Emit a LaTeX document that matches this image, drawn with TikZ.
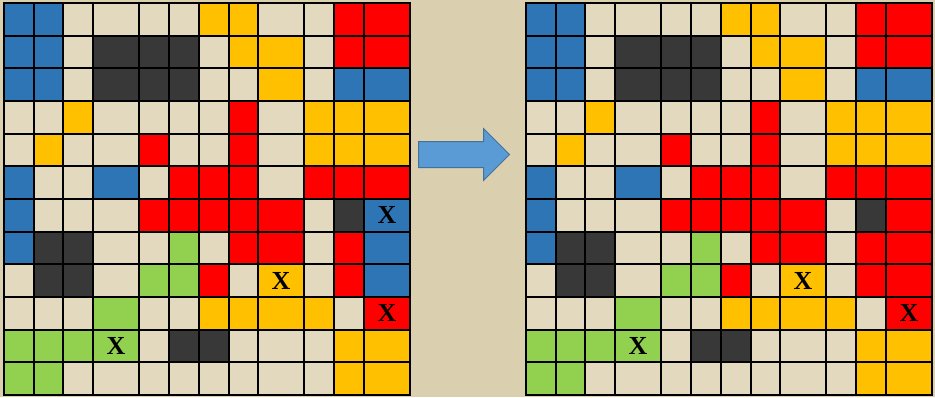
\documentclass[tikz,border=0pt]{standalone}
\usepackage{fontspec}
\setmainfont{Liberation Serif}
\usetikzlibrary{shapes.arrows}
\definecolor{tileblue}{RGB}{46,117,182}
\definecolor{tilered}{RGB}{255,0,0}
\definecolor{tileyellow}{RGB}{255,192,0}
\definecolor{tilegreen}{RGB}{146,208,80}
\definecolor{tiledark}{RGB}{56,56,56}
\definecolor{parchment}{RGB}{218,207,175}
\definecolor{parchmentlight}{RGB}{226,217,190}
\definecolor{arrowblue}{RGB}{91,155,213}
\definecolor{arrowedge}{RGB}{65,113,156}
\newcommand{\tilecols}{{0,30,59,89,135,165,195,225,254,300,330,360,406}}

\begin{document}
\begin{tikzpicture}[
x=1pt, y=-1pt,
tileb/.style={fill=tileblue},
tiler/.style={fill=tilered},
tiley/.style={fill=tileyellow},
tileg/.style={fill=tilegreen},
tiled/.style={fill=tiledark},
tilen/.style={fill=parchmentlight},
gridline/.style={draw=black, line width=2pt},
xtag/.style={font=\fontsize{26}{26}\selectfont\bfseries, inner sep=0pt}
]
\useasboundingbox[fill=parchment] (0,0) rectangle (935,397);

% left board
\begin{scope}[shift={(4,3)}]
\foreach \r/\row in {
  0/{b,b,n,n,n,n,y,y,n,n,r,r},
  1/{b,b,n,d,d,d,n,y,y,n,r,r},
  2/{b,b,n,d,d,d,n,n,y,n,b,b},
  3/{n,n,y,n,n,n,n,r,n,y,y,y},
  4/{n,y,n,n,r,n,n,r,n,y,y,y},
  5/{b,n,n,b,n,r,r,r,n,r,r,r},
  6/{b,n,n,n,r,r,r,r,r,n,d,b},
  7/{b,d,d,n,n,g,n,r,r,n,r,b},
  8/{n,d,d,n,g,g,r,n,y,n,r,b},
  9/{n,n,n,g,n,n,y,y,y,y,n,r},
  10/{g,g,g,g,n,d,d,n,n,n,y,y},
  11/{g,g,n,n,n,n,n,n,n,n,y,y}} {
  \foreach \k [count=\ci from 0] in \row {
    \pgfmathsetmacro\xa{\tilecols[\ci]}
    \pgfmathsetmacro\xb{\tilecols[\ci+1]}
    \fill[tile\k] (\xa,\r*32.67) rectangle (\xb,\r*32.67+32.67);
  }
}
\foreach \x in {30,59,89,135,165,195,225,254,300,330,360}
  \draw[gridline] (\x,0) -- (\x,392);
\foreach \r in {1,...,11}
  \draw[gridline] (0,\r*32.67) -- (406,\r*32.67);
\draw[gridline] (0,0) rectangle (406,392);
\node[xtag] (lx1) at (383,212.4) {X};
\node[xtag] (lx2) at (277,277.7) {X};
\node[xtag] (lx3) at (383,310.4) {X};
\node[xtag] (lx4) at (112,343.0) {X};
\end{scope}

% right board
\begin{scope}[shift={(526,3)}]
\foreach \r/\row in {
  0/{b,b,n,n,n,n,y,y,n,n,r,r},
  1/{b,b,n,d,d,d,n,y,y,n,r,r},
  2/{b,b,n,d,d,d,n,n,y,n,b,b},
  3/{n,n,y,n,n,n,n,r,n,y,y,y},
  4/{n,y,n,n,r,n,n,r,n,y,y,y},
  5/{b,n,n,b,n,r,r,r,n,r,r,r},
  6/{b,n,n,n,r,r,r,r,r,n,d,r},
  7/{b,d,d,n,n,g,n,r,r,n,r,r},
  8/{n,d,d,n,g,g,r,n,y,n,r,r},
  9/{n,n,n,g,n,n,y,y,y,y,n,r},
  10/{g,g,g,g,n,d,d,n,n,n,y,y},
  11/{g,g,n,n,n,n,n,n,n,n,y,y}} {
  \foreach \k [count=\ci from 0] in \row {
    \pgfmathsetmacro\xa{\tilecols[\ci]}
    \pgfmathsetmacro\xb{\tilecols[\ci+1]}
    \fill[tile\k] (\xa,\r*32.67) rectangle (\xb,\r*32.67+32.67);
  }
}
\foreach \x in {30,59,89,135,165,195,225,254,300,330,360}
  \draw[gridline] (\x,0) -- (\x,392);
\foreach \r in {1,...,11}
  \draw[gridline] (0,\r*32.67) -- (406,\r*32.67);
\draw[gridline] (0,0) rectangle (406,392);
\node[xtag] (rx2) at (277,277.7) {X};
\node[xtag] (rx3) at (383,310.4) {X};
\node[xtag] (rx4) at (112,343.0) {X};
\end{scope}

\node[single arrow, draw=arrowedge, fill=arrowblue, line width=1pt,
  minimum height=91pt, single arrow head extend=13pt,
  inner xsep=0pt, inner ysep=12.5pt, anchor=tail] (shiftarrow) at (418,154.5) {};
\end{tikzpicture}
\end{document}
